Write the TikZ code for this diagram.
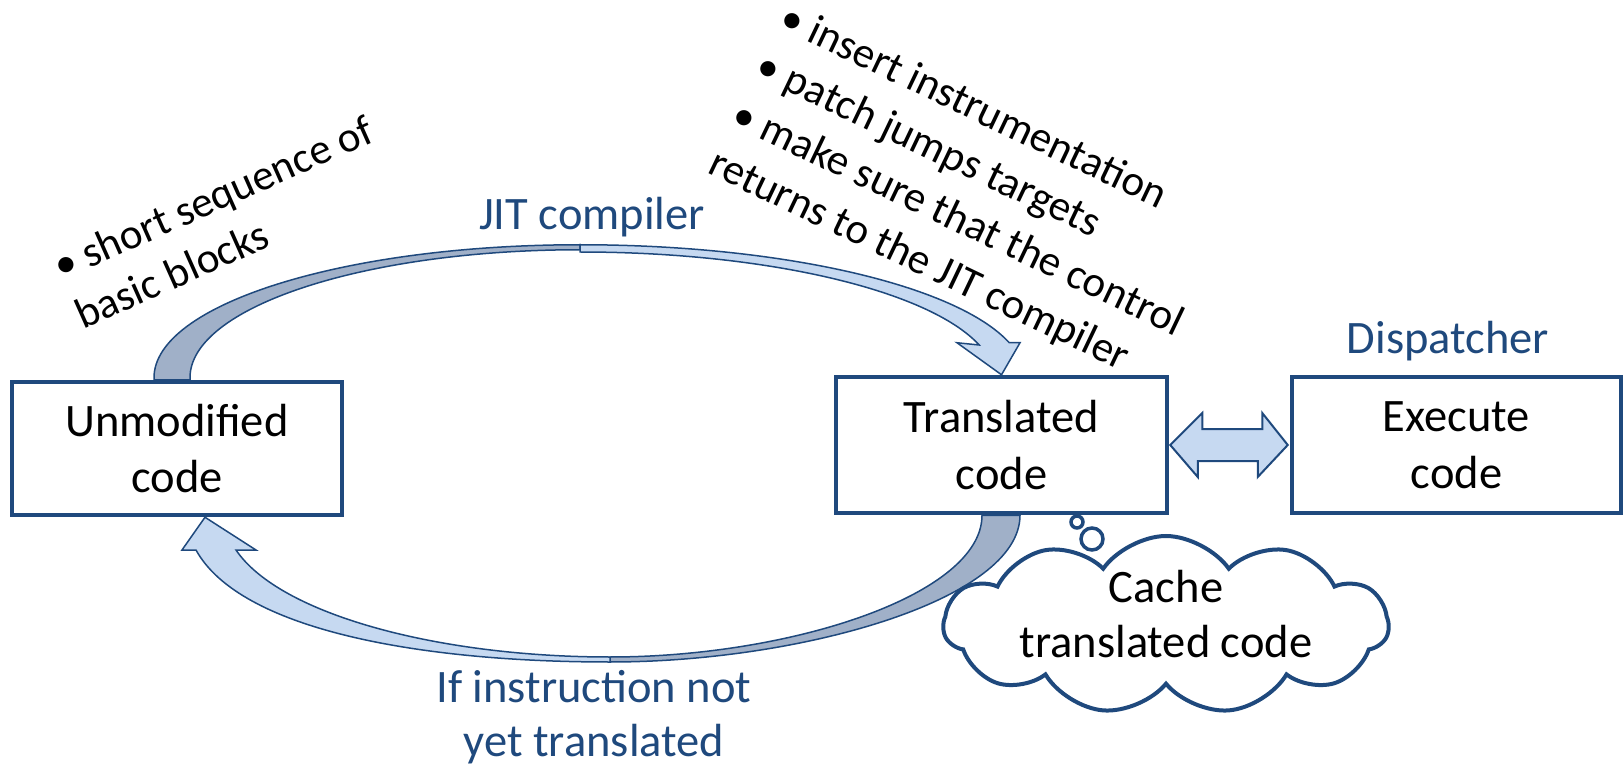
\documentclass[tikz,border=0pt]{standalone}
\usepackage{fontspec}
\setmainfont{Carlito}
\usetikzlibrary{shapes.symbols,calc,backgrounds}
\definecolor{navy}{RGB}{31,73,125}
\definecolor{pale}{RGB}{198,217,241}
\definecolor{slate}{RGB}{160,176,200}

\begin{document}
\begin{tikzpicture}[x=1pt,y=-1pt,
  box/.style={draw=navy, line width=4.5pt, fill=white, align=center,
    font=\fontsize{46.5}{56.7}\selectfont, inner sep=0pt},
  lbl/.style={text=navy, font=\fontsize{46.5}{56.7}\selectfont, inner sep=0pt, anchor=base},
  note/.style={font=\fontsize{43}{53}\selectfont, inner sep=0pt, anchor=base west},
  band/.style={draw=navy, line width=1.5pt, line join=miter},
]
\useasboundingbox (0,0) rectangle (1623,767);

% the three code boxes
\node[box, minimum width=330pt, minimum height=133pt] (unmod) at (177,448.5) {Unmodified\\code};
\node[box, minimum width=331pt, minimum height=136pt] (trans) at (1001.5,445) {Translated\\code};
\node[box, minimum width=329pt, minimum height=136pt] (exec) at (1456.5,445) {Execute\\code};

% curved block arrows behind the boxes
\begin{scope}[on background layer]
  % JIT compiler: from unmodified code over the top to translated code
  \path[band, fill=slate] ($(unmod.north)+(-23,0)$) -- ++(0,-2)
     arc[start angle=180, end angle=270, x radius=426, y radius=133] coordinate (apexT)
     -- ++(0,5) arc[start angle=270, end angle=180, x radius=390, y radius=128]
     -- ($(unmod.north)+(13,0)$) -- cycle;
  \path[band, fill=pale] (apexT)
     arc[start angle=270, end angle=344.74, x radius=445, y radius=133]
     -- ($(trans.north)+(18.5,-32)$) -- (trans.north) -- ($(trans.north)+(-44.5,-32)$)
     -- (979.2,345) arc[start angle=344.13, end angle=270, x radius=415, y radius=128]
     -- cycle;
  % miss path: from translated code under the bottom back to unmodified code
  \path[band, fill=slate] ($(trans.south)+(18.5,0)$)
     .. controls (1020,600) and (800,662) .. (610,662) coordinate (apexB)
     -- (610,657) .. controls (790,657) and (982,595) .. ($(trans.south)+(-19.5,0)$) -- cycle;
  \path[band, fill=pale] (apexB) .. controls (420,662) and (240,630) .. (196,550)
     -- (182,550) -- ($(unmod.south)+(28,0)$) -- (256,550) -- (236,550)
     .. controls (280,615) and (440,657) .. (610,657) -- cycle;
\end{scope}

% two-way arrow between translated and executed code
\path[band, line width=2pt, fill=pale] ($(trans.east)+(1,0)$) -- ++(32,-32) -- ++(0,16)
   -- ++(60,0) -- ++(0,-16) -- ($(exec.west)+(-2,0)$) -- ++(-30,32) -- ++(0,-16)
   -- ++(-60,0) -- ++(0,16) -- cycle;

% cache cloud with its thought bubbles (text sits above the cloud's middle)
\node[cloud, draw=navy, line width=4pt, fill=white, cloud puffs=11, cloud puff arc=110,
      cloud ignores aspect, minimum width=445pt, minimum height=178pt, align=center,
      text height=64pt, text depth=0pt,
      font=\fontsize{46.5}{55}\selectfont, inner sep=0pt] (cache) at (1166,625)
      {Cache\\translated code};
\draw[navy, line width=3.5pt, fill=white] (1077,522) circle[radius=6];
\draw[navy, line width=3.5pt, fill=white] (1092,539) circle[radius=11];

% blue captions
\node[lbl] (jit) at (592,230) {JIT compiler};
\node[lbl] (disp) at (1448,353) {Dispatcher};
\node[lbl] (miss1) at (594,702) {If instruction not};
\node[lbl] (miss2) at (594,756) {yet translated};

% slanted notes
\node[note, rotate=24] (seq1) at (61,281) {\textbullet\ short sequence of};
\node[note, rotate=24] (seq2) at (83,330) {basic blocks};
\node[note, rotate=-25.5] (jit1) at (777,27) {\textbullet\ insert instrumentation};
\node[note, rotate=-25.5] (jit2) at (753.3,75.5) {\textbullet\ patch jumps targets};
\node[note, rotate=-25.5] (jit3) at (729.6,124) {\textbullet\ make sure that the control};
\node[note, rotate=-25.5] (jit4) at (705.9,172.6) {returns to the JIT compiler};
\end{tikzpicture}
\end{document}
